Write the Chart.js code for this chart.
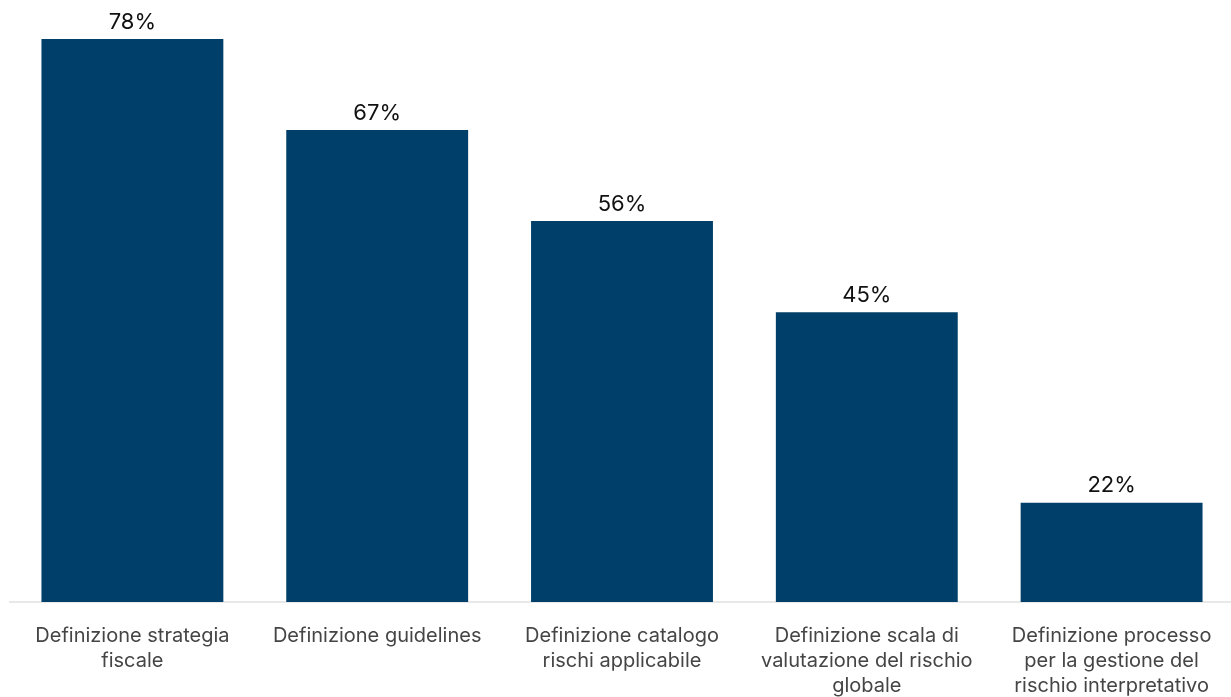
<!DOCTYPE html>
<html>
<head>
<meta charset="utf-8">
<script src="https://cdn.jsdelivr.net/npm/chart.js@4/dist/chart.umd.min.js"></script>
<style>
  html, body { margin: 0; padding: 0; background: #fff; overflow: hidden; }
  #wrap { width: 1234px; height: 697px; }
</style>
</head>
<body>
<div id="wrap"><canvas id="graph"></canvas></div>
<script>
var categories = [
  ['Definizione strategia', 'fiscale'],
  ['Definizione guidelines'],
  ['Definizione catalogo', 'rischi applicabile'],
  ['Definizione scala di', 'valutazione del rischio', 'globale'],
  ['Definizione processo', 'per la gestione del', 'rischio interpretativo']
];
var values = [78, 67, 56, 45, 22];

// draw the % labels above each bar
var valueLabels = {
  id: 'valueLabels',
  afterDatasetsDraw(chart) {
    var ctx = chart.ctx;
    var meta = chart.getDatasetMeta(0);
    ctx.save();
    ctx.font = '22px Inter, "Noto Sans", sans-serif';
    ctx.fillStyle = '#111';
    ctx.textAlign = 'center';
    ctx.textBaseline = 'bottom';
    meta.data.forEach(function (bar, i) {
      ctx.fillText(values[i] + '%', bar.x, bar.y - 6);
    });
    ctx.restore();
  }
};

var ctx = document.getElementById('graph').getContext('2d');
var chart = new Chart(ctx, {
  type: 'bar',
  data: {
    labels: categories,
    datasets: [{
      data: values,
      backgroundColor: '#003f69',
      barPercentage: 0.743,
      categoryPercentage: 1
    }]
  },
  options: {
    responsive: true,
    maintainAspectRatio: false,
    animation: false,
    layout: { padding: { left: 10, right: 0, top: 0, bottom: -22 } },
    plugins: {
      legend: { display: false },
      tooltip: { enabled: false }
    },
    scales: {
      x: {
        grid: { display: false, drawTicks: false },
        border: { display: true, color: '#e8e8e8', width: 2 },
        ticks: {
          color: '#454545',
          font: { family: 'Inter, "Noto Sans", sans-serif', size: 20, lineHeight: 1.25 },
          padding: 21,
          maxRotation: 0,
          autoSkip: false
        }
      },
      y: {
        display: false,
        min: 10,
        max: 82.7
      }
    }
  },
  plugins: [valueLabels]
});
</script>
</body>
</html>
